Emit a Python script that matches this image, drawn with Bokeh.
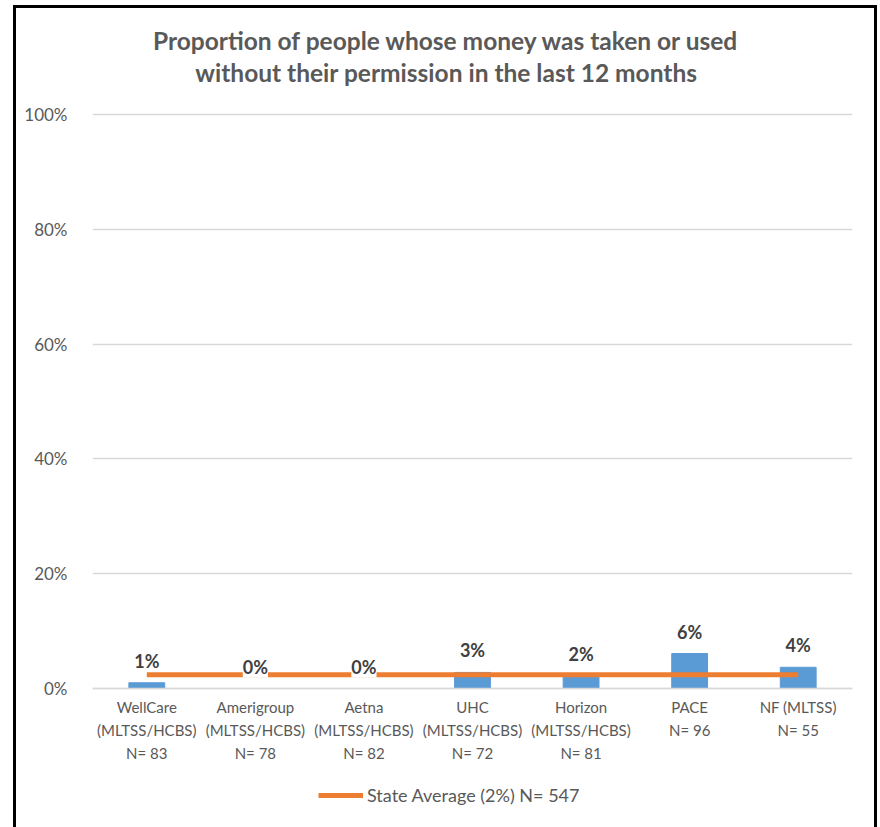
from bokeh.plotting import figure
from bokeh.models import (ColumnDataSource, FactorRange, Range1d, LabelSet, Legend,
                          LegendItem, PrintfTickFormatter, FixedTicker, Label)
from bokeh.core.properties import value
from bokeh.embed import file_html
from bokeh.resources import INLINE

categories = [
    "WellCare\n(MLTSS/HCBS)\nN= 83",
    "Amerigroup\n(MLTSS/HCBS)\nN= 78",
    "Aetna\n(MLTSS/HCBS)\nN= 82",
    "UHC\n(MLTSS/HCBS)\nN= 72",
    "Horizon\n(MLTSS/HCBS)\nN= 81",
    "PACE\nN= 96\n ",
    "NF (MLTSS)\nN= 55\n ",
]
values = [1.0, 0.0, 0.0, 2.8, 2.1, 6.1, 3.7]
value_labels = ["1%", "0%", "0%", "3%", "2%", "6%", "4%"]
state_average = [2.4, 2.4, 2.4, 2.4, 2.4, 2.4, 2.4]
state_label = "State Average (2%) N= 547"
title_lines = ["Proportion of people whose money was taken or used",
               "without their permission in the last 12 months"]
y_ticks = [0, 20, 40, 60, 80, 100]

FONT = "Lato"
GREY = "#595959"

src = ColumnDataSource(dict(cat=categories, val=values, lab=value_labels, avg=state_average))

# The frame spans the whole card height: the title sits above the 100% line and
# the category axis is pinned at 0 so the legend can sit below it.
p = figure(frame_width=760, frame_height=811,
           x_range=FactorRange(*categories, range_padding=0),
           y_range=Range1d(-22.82, 118.47), output_backend="svg", toolbar_location=None,
           min_border_left=76, min_border_right=22, min_border_top=0, min_border_bottom=8)
p.styles = {"margin-left": "16px", "margin-top": "8px",
            "box-shadow": "-3px -3px 0 0 black, 3px -3px 0 0 black, "
                          "-3px 0 0 0 black, 3px 0 0 0 black"}
p.outline_line_color = None

p.vbar(x="cat", top="val", width=0.33, source=src, color="#5b9bd5")
line_r = p.line(x="cat", y="avg", source=src, line_width=5, line_color="#ed7d31")

labels = LabelSet(x="cat", y="val", text="lab", source=src, y_offset=15,
                  text_align="center", text_baseline="alphabetic",
                  text_font=value(FONT), text_font_size=value("18px"),
                  text_font_style=value("bold"),
                  text_color=value("#404040"), background_fill_color="white")
p.add_layout(labels)

for line, ty in zip(title_lines, [112.9, 107.3]):
    p.add_layout(Label(x=3.26, y=ty, text=line, text_align="center",
                       text_baseline="middle", text_font=FONT, text_font_size="24.5px",
                       text_font_style="bold", text_color=GREY))

p.yaxis.ticker = FixedTicker(ticks=y_ticks)
p.yaxis.formatter = PrintfTickFormatter(format="%d%%")
p.yaxis.axis_line_color = None
p.yaxis.major_tick_line_color = None
p.yaxis.minor_tick_line_color = None
p.yaxis.major_label_text_font = FONT
p.yaxis.major_label_text_font_size = "17px"
p.yaxis.major_label_text_color = GREY
p.yaxis.major_label_standoff = 19

p.xaxis.fixed_location = 0
p.xaxis.axis_line_color = "#d9d9d9"
p.xaxis.axis_line_width = 1.5
p.xaxis.major_tick_line_color = None
p.xaxis.major_label_text_font = FONT
p.xaxis.major_label_text_font_size = "15px"
p.xaxis.major_label_text_color = GREY
p.xaxis.major_label_text_line_height = 1.3
p.xaxis.major_label_standoff = 3
p.xaxis.major_label_orientation = "horizontal"

p.xgrid.grid_line_color = None
p.ygrid.grid_line_color = "#d9d9d9"
p.ygrid.grid_line_width = 1.5

legend = Legend(items=[LegendItem(label=state_label, renderers=[line_r])],
                orientation="horizontal", location=(226, 13),
                label_text_font=FONT, label_text_font_size="18px", label_text_color=GREY,
                glyph_width=45, glyph_height=10, label_standoff=4,
                border_line_color=None, background_fill_alpha=0, margin=0, padding=4)
p.add_layout(legend)

open("out.html", "w").write(file_html(p, INLINE))
